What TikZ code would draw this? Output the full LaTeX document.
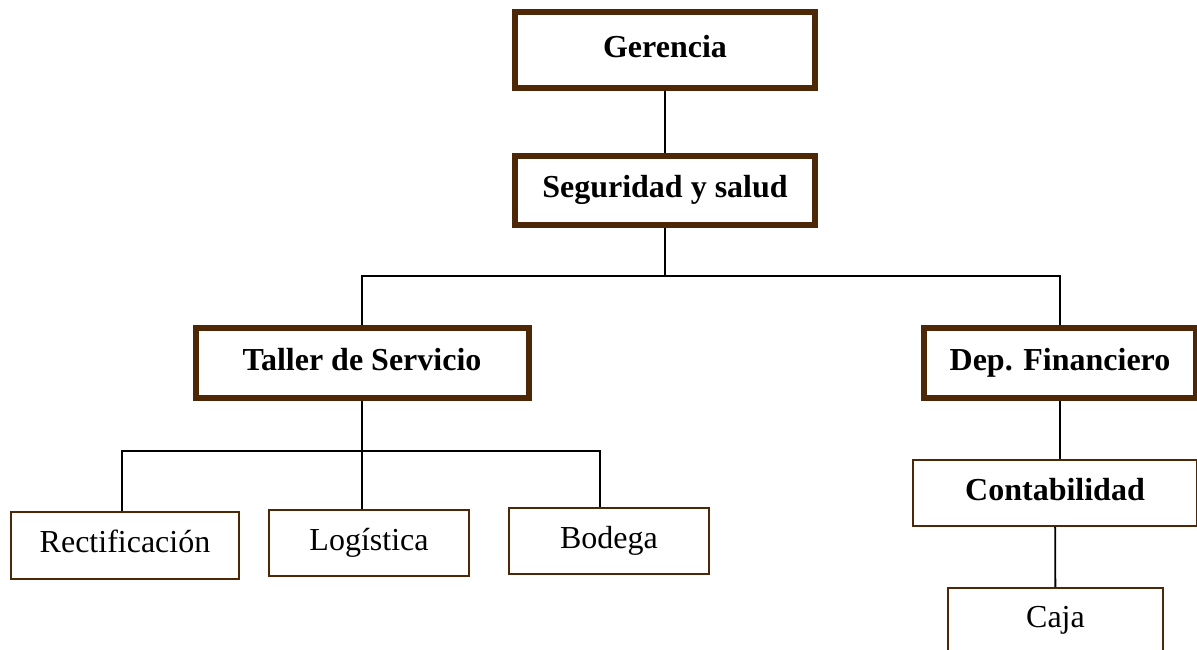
\documentclass[tikz,border=0pt]{standalone}
\usepackage{fontspec}
\setmainfont{Liberation Serif}
\definecolor{boxbrown}{RGB}{78,40,6}
\begin{document}
\begin{tikzpicture}[x=1pt, y=-1pt,
   area/.style={draw=boxbrown, line width=6pt, inner sep=0pt, font=\fontsize{32}{38}\selectfont\bfseries, text height=22.4pt, text depth=8pt},
   unidad/.style={draw=boxbrown, line width=1.6pt, inner sep=0pt, font=\fontsize{32}{38}\selectfont, text height=22.4pt, text depth=8pt},
   line width=1.8pt]
   \useasboundingbox (0,0) rectangle (1197,649);
   \clip (0,0) rectangle (1197,649);
   \node (0) [area, minimum width=300pt, minimum height=76pt] at (665,50) {Gerencia};
   \node (1) [area, minimum width=300pt, minimum height=69pt] at (665,190.5) {Seguridad y salud};
   \node (2) [area, minimum width=333pt, minimum height=70pt] at (362,363) {Taller de Servicio};
   \node (3) [area, minimum width=272pt, minimum height=70pt] at (1060,363) {Dep. Financiero};
   \node (4) [unidad, minimum width=284pt, minimum height=66pt] at (1055,493) {\bfseries Contabilidad};
   \node (5) [unidad, minimum width=215pt, minimum height=64pt] at (1055.5,620) {Caja};
   \node (6) [unidad, minimum width=228pt, minimum height=67pt] at (125,545.5) {Rectificación};
   \node (7) [unidad, minimum width=200pt, minimum height=66pt] at (369,543) {Logística};
   \node (8) [unidad, minimum width=200pt, minimum height=66pt] at (609,541) {Bodega};
   \coordinate (r) at (665,276);
   \coordinate (t) at (362,451);
   \draw (0) -- (1);
   \draw (1) -- (r);
   \draw (r) -| (2);
   \draw (r) -| (3);
   \draw (2) -- (t);
   \draw (t) -| ([xshift=-3pt]6.north);
   \draw (t) -- ([xshift=-7pt]7.north);
   \draw (t) -| ([xshift=-9pt]8.north);
   \draw (3) -- (3 |- 4.north);
   \draw (4) -- (5);
  \end{tikzpicture}
\end{document}
